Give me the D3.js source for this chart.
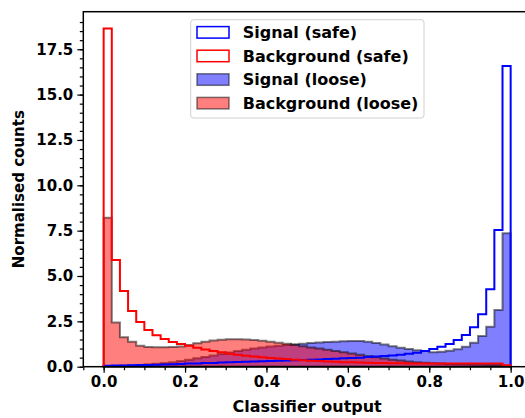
<!DOCTYPE html>
<html>
<head>
<meta charset="utf-8">
<script src="https://cdn.jsdelivr.net/npm/d3@7"></script>
<style>
  body { margin: 0; background: #fff; }
  svg { display: block; font-family: "DejaVu Sans", sans-serif; font-weight: bold; }
</style>
</head>
<body>
<svg></svg>
<script>
// Chart size
const width = 525;
const height = 418;

// Bin edges: 50 bins of 0.02 from 0 to 1
const binWidth = 0.02;
const nBins = 50;

// Normalised counts per bin
const signalSafe = [0.05, 0.06, 0.07, 0.08, 0.09, 0.10, 0.11, 0.12, 0.14, 0.15,
    0.17, 0.18, 0.20, 0.21, 0.23, 0.24, 0.26, 0.27, 0.29, 0.30,
    0.31, 0.33, 0.34, 0.36, 0.37, 0.39, 0.40, 0.42, 0.44, 0.46,
    0.48, 0.50, 0.53, 0.56, 0.59, 0.62, 0.66, 0.71, 0.77, 0.86,
    0.98, 1.10, 1.25, 1.47, 1.75, 2.17, 2.89, 4.27, 7.54, 16.58];

const backgroundSafe = [18.65, 5.88, 4.17, 3.07, 2.46, 2.02, 1.73, 1.53, 1.36, 1.25,
    1.16, 1.05, 0.95, 0.86, 0.79, 0.72, 0.66, 0.61, 0.56, 0.52,
    0.48, 0.45, 0.42, 0.39, 0.36, 0.33, 0.31, 0.29, 0.27, 0.25,
    0.24, 0.23, 0.22, 0.21, 0.20, 0.19, 0.19, 0.18, 0.18, 0.18,
    0.17, 0.17, 0.17, 0.17, 0.17, 0.18, 0.18, 0.18, 0.18, 0.08];

const signalLoose = [0.03, 0.04, 0.06, 0.08, 0.10, 0.13, 0.16, 0.20, 0.25, 0.31,
    0.38, 0.46, 0.54, 0.62, 0.70, 0.78, 0.86, 0.93, 1.00, 1.06,
    1.11, 1.16, 1.20, 1.24, 1.27, 1.30, 1.33, 1.36, 1.38, 1.40,
    1.41, 1.41, 1.38, 1.30, 1.22, 1.13, 1.05, 0.97, 0.91, 0.86,
    0.80, 0.83, 0.88, 0.96, 1.10, 1.32, 1.69, 2.20, 3.13, 7.35];

const backgroundLoose = [8.21, 2.43, 1.62, 1.38, 1.16, 1.09, 1.07, 1.07, 1.08, 1.12,
    1.20, 1.29, 1.37, 1.44, 1.49, 1.52, 1.52, 1.50, 1.47, 1.43,
    1.38, 1.32, 1.26, 1.20, 1.13, 1.06, 1.00, 0.94, 0.87, 0.80,
    0.73, 0.66, 0.59, 0.52, 0.45, 0.39, 0.34, 0.29, 0.25, 0.22,
    0.19, 0.17, 0.15, 0.14, 0.13, 0.12, 0.12, 0.11, 0.11, 0.05];

// Tick labels
const xTicks = [0.0, 0.2, 0.4, 0.6, 0.8, 1.0];
const yTicks = [0.0, 2.5, 5.0, 7.5, 10.0, 12.5, 15.0, 17.5];

const legendLabels = ["Signal (safe)", "Background (safe)", "Signal (loose)", "Background (loose)"];

// Plot area (the right edge runs past the window, as in the original)
const plotLeft = 83.3, plotRight = 531, plotTop = 11.7, plotBottom = 366.7;

const svg = d3.select("svg")
    .attr("width", width)
    .attr("height", height);

const x = d3.scaleLinear().domain([-0.05, 1.05]).range([plotLeft, plotRight]);
const y = d3.scaleLinear().domain([0, 19.57]).range([plotBottom, plotTop]);

// Turn bin values into the outline of a step histogram
function stepPoints(values) {
    const pts = [[0, 0]];
    values.forEach(function(v, i) {
        pts.push([i * binWidth, v]);
        pts.push([(i + 1) * binWidth, v]);
    });
    pts.push([nBins * binWidth, 0]);
    return pts;
}

const line = d3.line()
    .x(function(d) { return x(d[0]); })
    .y(function(d) { return y(d[1]); });

const plot = svg.append("g");

// Filled (loose) histograms
plot.append("path")
    .attr("d", line(stepPoints(signalLoose)) + "Z")
    .attr("fill", "rgba(0,0,255,0.5)")
    .attr("stroke", "rgba(0,0,0,0.5)")
    .attr("stroke-width", 2)
    .attr("stroke-linejoin", "miter");

plot.append("path")
    .attr("d", line(stepPoints(backgroundLoose)) + "Z")
    .attr("fill", "rgba(255,0,0,0.5)")
    .attr("stroke", "rgba(0,0,0,0.5)")
    .attr("stroke-width", 2)
    .attr("stroke-linejoin", "miter");

// Step (safe) histograms
plot.append("path")
    .attr("d", line(stepPoints(signalSafe)))
    .attr("fill", "none")
    .attr("stroke", "#0000ff")
    .attr("stroke-width", 2);

plot.append("path")
    .attr("d", line(stepPoints(backgroundSafe)))
    .attr("fill", "none")
    .attr("stroke", "#ff0000")
    .attr("stroke-width", 2);

// Axes
svg.append("g")
    .attr("transform", "translate(0," + plotBottom + ")")
    .call(d3.axisBottom(x).tickValues(xTicks).tickFormat(d3.format(".1f")).tickSize(6).tickPadding(4));

svg.append("g")
    .attr("transform", "translate(0," + plotBottom + ")")
    .call(d3.axisBottom(x).tickValues(d3.range(-0.05, 1.06, 0.05)).tickFormat("").tickSize(3.5));

svg.append("g")
    .attr("transform", "translate(" + plotLeft + ",0)")
    .call(d3.axisLeft(y).tickValues(yTicks).tickFormat(d3.format(".1f")).tickSize(6).tickPadding(4));

svg.append("g")
    .attr("transform", "translate(" + plotLeft + ",0)")
    .call(d3.axisLeft(y).tickValues(d3.range(0, 19.5, 0.5)).tickFormat("").tickSize(3.5));

svg.selectAll(".domain").remove();
svg.selectAll(".tick line").attr("stroke", "#000").attr("stroke-width", 1.2);
svg.selectAll(".tick text")
    .attr("fill", "#000")
    .style("font-family", "DejaVu Sans")
    .style("font-weight", "bold")
    .style("font-size", "15px");

// Frame
svg.append("rect")
    .attr("x", plotLeft)
    .attr("y", plotTop)
    .attr("width", plotRight - plotLeft)
    .attr("height", plotBottom - plotTop)
    .attr("fill", "none")
    .attr("stroke", "#000")
    .attr("stroke-width", 1.5);

// Axis labels
svg.append("text")
    .attr("x", (plotLeft + plotRight) / 2)
    .attr("y", 412)
    .attr("text-anchor", "middle")
    .style("font-size", "16px")
    .text("Classifier output");

svg.append("text")
    .attr("transform", "translate(24," + (plotTop + plotBottom) / 2 + ") rotate(-90)")
    .attr("text-anchor", "middle")
    .style("font-size", "15px")
    .text("Normalised counts");

// Legend
const legend = svg.append("g");
legend.append("rect")
    .attr("x", 190.7)
    .attr("y", 19.7)
    .attr("width", 233.3)
    .attr("height", 98.3)
    .attr("rx", 3)
    .attr("fill", "rgba(255,255,255,0.8)")
    .attr("stroke", "#d0d0d0")
    .attr("stroke-width", 1);

const handleFill = ["#fff", "#fff", "rgba(0,0,255,0.5)", "rgba(255,0,0,0.5)"];
const handleStroke = ["#0000ff", "#ff0000", "rgba(0,0,0,0.5)", "rgba(0,0,0,0.5)"];

legend.selectAll(".entry")
    .data(legendLabels)
    .enter().append("g")
    .attr("class", "entry")
    .attr("transform", function(d, i) { return "translate(0," + (32.3 + i * 23.6) + ")"; })
    .each(function(d, i) {
        const g = d3.select(this);
        g.append("rect")
            .attr("x", 197)
            .attr("y", -5.7)
            .attr("width", 32)
            .attr("height", 11.5)
            .attr("fill", handleFill[i])
            .attr("stroke", handleStroke[i])
            .attr("stroke-width", 1.5);
        g.append("text")
            .attr("x", 242.7)
            .attr("y", 5.8)
            .style("font-size", "16px")
            .text(d);
    });
</script>
</body>
</html>
